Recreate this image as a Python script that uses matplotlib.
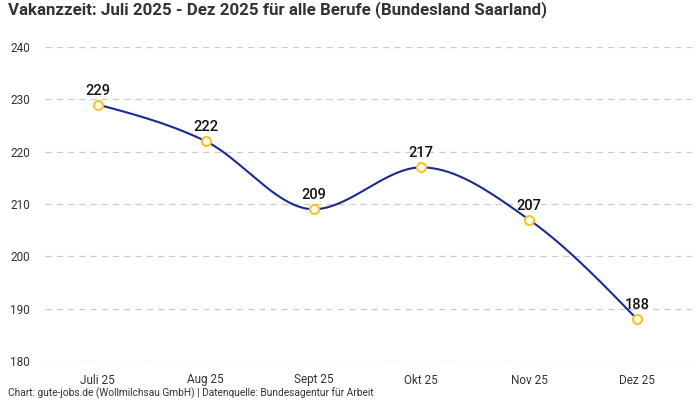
import numpy as np
import matplotlib
matplotlib.use("Agg")
import matplotlib.pyplot as plt

plt.rcParams["font.family"] = ["Roboto", "DejaVu Sans"]

# data
months = ["Juli 25", "Aug 25", "Sept 25", "Okt 25", "Nov 25", "Dez 25"]
vakanzzeit = [229, 222, 209, 217, 207, 188]
y_ticks = [180, 190, 200, 210, 220, 230, 240]

TITLE = "Vakanzzeit: Juli 2025 - Dez 2025 für alle Berufe (Bundesland Saarland)"
FOOTER = "Chart: gute-jobs.de (Wollmilchsau GmbH) | Datenquelle: Bundesagentur für Arbeit"
LINE_COLOR = "#1b2a8f"
MARKER_COLOR = "#f7c325"
TEXT_COLOR = "#333333"


def monotone_x(x, y, n=40):
    # same as d3.curveMonotoneX
    x = np.asarray(x, float)
    y = np.asarray(y, float)
    h = np.diff(x)
    s = np.diff(y) / h
    t = np.zeros_like(y)
    for i in range(1, len(x) - 1):
        p = (s[i - 1] * h[i] + s[i] * h[i - 1]) / (h[i - 1] + h[i])
        t[i] = (np.sign(s[i - 1]) + np.sign(s[i])) * min(abs(s[i - 1]), abs(s[i]), 0.5 * abs(p))
    t[0] = (3 * s[0] - t[1]) / 2
    t[-1] = (3 * s[-1] - t[-2]) / 2
    xs, ys = [], []
    for i in range(len(x) - 1):
        u = np.linspace(0, 1, n)
        h00 = 2 * u**3 - 3 * u**2 + 1
        h10 = u**3 - 2 * u**2 + u
        h01 = -2 * u**3 + 3 * u**2
        h11 = u**3 - u**2
        xs.append(x[i] + u * h[i])
        ys.append(h00 * y[i] + h10 * h[i] * t[i] + h01 * y[i + 1] + h11 * h[i] * t[i + 1])
    return np.concatenate(xs), np.concatenate(ys)


fig = plt.figure(figsize=(7, 4), dpi=100)
ax = fig.add_axes([45 / 700, 39 / 400, 647 / 700, 314 / 400])

xpos = np.arange(len(months))
cx, cy = monotone_x(xpos, vakanzzeit)
ax.plot(cx, cy, color=LINE_COLOR, lw=1.5, zorder=3)
ax.plot(xpos, vakanzzeit, ls="none", marker="o", ms=6.5, mfc="white",
        mec=MARKER_COLOR, mew=1.5, zorder=4)

for xi, v in zip(xpos, vakanzzeit):
    ax.annotate(str(v), (xi, v), xytext=(0, 5), textcoords="offset points",
                ha="center", va="bottom", fontsize=10.5, fontweight="medium",
                color="#111111", zorder=5)

ax.set_xlim(-0.49, 5.51)
ax.set_ylim(180, 240)
ax.set_yticks(y_ticks)
ax.set_xticks(xpos)
ax.set_xticklabels(months)
ax.tick_params(length=0, labelsize=8.5, colors=TEXT_COLOR)
ax.tick_params(axis="y", pad=11)
ax.tick_params(axis="x", pad=9)

ax.grid(axis="y", color="#cccccc", ls=(0, (5, 4)), lw=0.9)
ax.set_axisbelow(True)
for sp in ax.spines.values():
    sp.set_visible(False)

fig.text(8 / 700, 1 - 10 / 400, TITLE, fontsize=12.2, fontweight="bold",
         color=TEXT_COLOR, ha="left", va="center")
fig.text(8 / 700, 1 - 393 / 400, FOOTER, fontsize=7.3, color=TEXT_COLOR,
         ha="left", va="center")

fig.savefig("out.png", dpi=100)
